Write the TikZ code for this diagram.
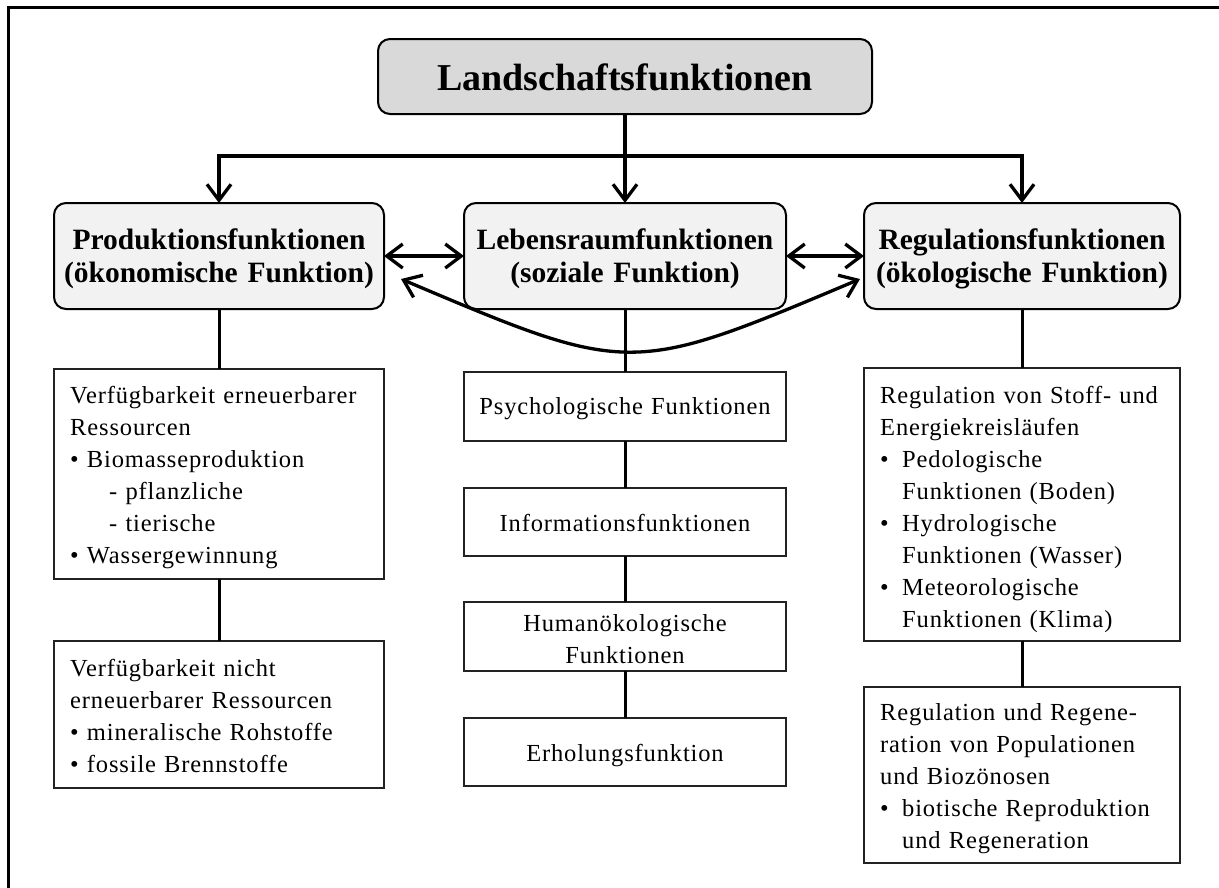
\documentclass[tikz,border=0pt]{standalone}
\usepackage{fontspec}
\setmainfont{Liberation Serif}
\newfontfamily\regfont{Liberation Serif}[LetterSpace=3.5]
\usetikzlibrary{arrows.meta,calc}
\definecolor{titlefill}{HTML}{D9D9D9}
\definecolor{headfill}{HTML}{F2F2F2}
\definecolor{boxline}{HTML}{222222}
\newcommand{\mybul}{\makebox[22pt][l]{•}}
\newcommand{\myind}{\hspace*{22pt}}
\begin{document}
\begin{tikzpicture}[x=1pt,y=-1pt,
  titlebox/.style={draw=black, line width=2pt, rounded corners=12pt, fill=titlefill, inner sep=0pt, outer sep=0pt, anchor=north west},
  headbox/.style={draw=black, line width=2pt, rounded corners=12pt, fill=headfill, inner sep=0pt, outer sep=0pt, anchor=north west},
  plainbox/.style={draw=boxline, line width=1.8pt, fill=white, inner sep=0pt, outer sep=0pt, anchor=north west},
  link/.style={line width=3pt},
  arr/.style={line width=3.3pt, -{Straight Barb[length=16pt,width=24pt]}},
  darr/.style={line width=3.3pt, {Straight Barb[length=16pt,width=24pt]}-{Straight Barb[length=16pt,width=24pt]}},
  titletxt/.style={font=\bfseries\fontsize{38}{44}\selectfont, inner sep=0pt, anchor=base},
  headtxt/.style={font=\bfseries\fontsize{29.5}{33}\selectfont, inner sep=0pt, anchor=base, text width=320pt, align=center},
  regtxt/.style={font=\regfont\fontsize{24.5}{32}\selectfont, inner sep=0pt, anchor=base west, text width=300pt, align=left},
  midtxt/.style={font=\regfont\fontsize{24.5}{32}\selectfont, inner sep=0pt, anchor=base, text width=310pt, align=center}
]
\useasboundingbox (0,0) rectangle (1219,887);
% frame
\draw[line width=2.6pt] (1230,7.5) -- (8.7,7.5) -- (8.7,900);

% title
\node[titlebox, minimum width=494pt, minimum height=75pt] (title) at (378,39) {};
\node[titletxt] (titlet) at (625,90) {Landschaftsfunktionen};

% level 2
\node[headbox, minimum width=330pt, minimum height=106pt] (prod) at (54,203) {};
\node[headbox, minimum width=322pt, minimum height=106pt] (leb) at (464,203) {};
\node[headbox, minimum width=316pt, minimum height=106pt] (reg) at (864,203) {};
\node[headtxt] (prodt) at (219,249) {Produktionsfunktionen\\(ökonomische Funktion)};
\node[headtxt] (lebt) at (625,249) {Lebensraumfunktionen\\(soziale Funktion)};
\node[headtxt] (regt) at (1022,249) {Regulationsfunktionen\\(ökologische Funktion)};

% left column
\node[plainbox, minimum width=330pt, minimum height=210pt] (pa) at (54,369) {};
\node[plainbox, minimum width=330pt, minimum height=147pt] (pb) at (54,641) {};
\node[regtxt] (pat) at (70,403) {Verfügbarkeit erneuerbarer\\
Ressourcen\\
• Biomasseproduktion\\
\hspace*{39pt}- pflanzliche\\
\hspace*{39pt}- tierische\\
• Wassergewinnung};
\node[regtxt] (pbt) at (70,676) {Verfügbarkeit nicht\\
erneuerbarer Ressourcen\\
• mineralische Rohstoffe\\
• fossile Brennstoffe};

% middle column
\node[plainbox, minimum width=322pt, minimum height=69pt] (m1) at (464,372) {};
\node[plainbox, minimum width=322pt, minimum height=68pt] (m2) at (464,488) {};
\node[plainbox, minimum width=322pt, minimum height=69pt] (m3) at (464,602) {};
\node[plainbox, minimum width=322pt, minimum height=68pt] (m4) at (464,718) {};
\node[midtxt] (m1t) at (625,414) {Psychologische Funktionen};
\node[midtxt] (m2t) at (625,531) {Informationsfunktionen};
\node[midtxt] (m3t) at (625,631) {Humanökologische\\Funktionen};
\node[midtxt] (m4t) at (625,761) {Erholungsfunktion};

% right column
\node[plainbox, minimum width=316pt, minimum height=273pt] (ra) at (864,368) {};
\node[plainbox, minimum width=316pt, minimum height=176pt] (rb) at (864,687) {};
\node[regtxt] (rat) at (880,403) {Regulation von Stoff- und\\
Energiekreisläufen\\
\mybul Pedologische\\
\myind Funktionen (Boden)\\
\mybul Hydrologische\\
\myind Funktionen (Wasser)\\
\mybul Meteorologische\\
\myind Funktionen (Klima)};
\node[regtxt] (rbt) at (880,720) {Regulation und Regene-\\
ration von Populationen\\
und Biozönosen\\
\mybul biotische Reproduktion\\
\myind und Regeneration};

% connectors
\coordinate (bar) at (625,156);
\draw[arr] (title.south) -- (leb.north);
\draw[darr] (prod.north) -- (prod.north |- bar) -- (reg.north |- bar) -- (reg.north);
\draw[darr] (prod.east) -- (leb.west);
\draw[darr] (leb.east) -- (reg.west);

\draw[link] (prod.south) -- (pa.north);
\draw[link] (pa.south) -- (pb.north);
\draw[link] (leb.south) -- (m1.north);
\draw[link] (m1.south) -- (m2.north);
\draw[link] (m2.south) -- (m3.north);
\draw[link] (m3.south) -- (m4.north);
\draw[link] (reg.south) -- (ra.north);
\draw[link] (ra.south) -- (rb.north);

\draw[darr] ($(prod.east)+(17,23)$) .. controls ($(leb.south)+(5,67)$) .. ($(reg.west)+(-4,23)$);
\end{tikzpicture}
\end{document}
